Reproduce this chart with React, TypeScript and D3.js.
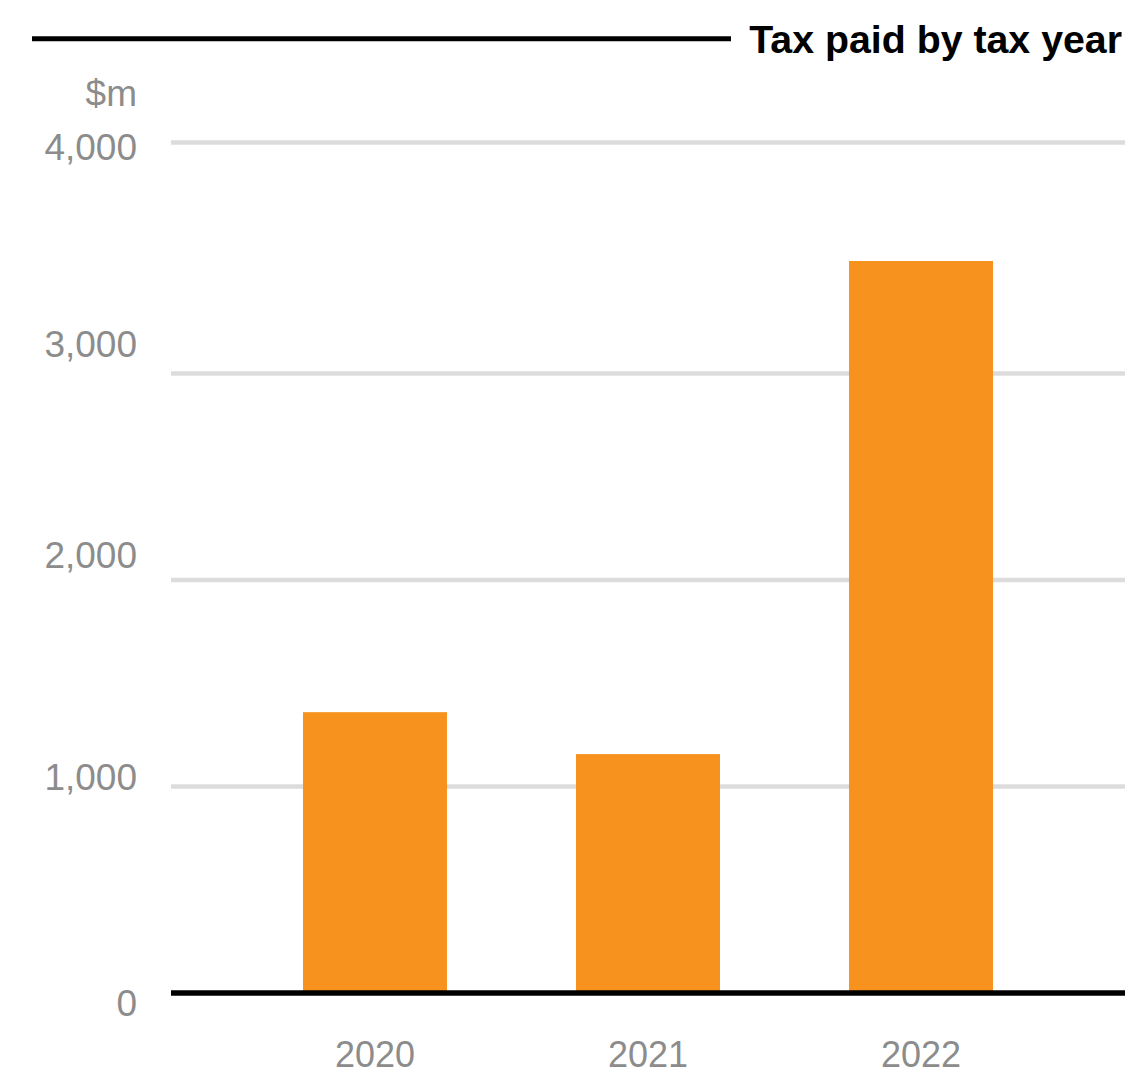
import React from "react";
import * as d3 from "d3";

const years = ["2020", "2021", "2022"];
const taxPaid = [1360, 1157, 3487];
const tickValues = [0, 1000, 2000, 3000, 4000];
const tickLabels = ["0", "1,000", "2,000", "3,000", "4,000"];
const unitLabel = "$m";
const title = "Tax paid by tax year";

const W = 1127;
const H = 1076;
const plotLeft = 171;
const plotRight = 1125;
const plotBottom = 993;
const FONT = "'Liberation Sans', Arial, Helvetica, sans-serif";
const GRAY = "#8c8c8c";
const ORANGE = "#f7921f";

export default function App() {
  const x = d3
    .scaleBand<string>()
    .domain(years)
    .range([plotLeft, plotRight])
    .paddingInner(0.4725)
    .paddingOuter(0.4835);

  // gridline positions in the reference are not evenly spaced at the top
  const y = d3
    .scaleLinear()
    .domain([0, 3000, 4000])
    .range([plotBottom, 373.5, 142.5]);

  // tick label baselines
  const yLabel = d3
    .scaleLinear()
    .domain(tickValues)
    .range([1016, 790, 568, 357, 160]);

  return (
    <svg
      width={W}
      height={H}
      style={{ position: "absolute", left: 0, top: 0 }}
      fontFamily={FONT}
    >
      <line x1={32} x2={731} y1={38.7} y2={38.7} stroke="#000" strokeWidth={5} />
      <text
        x={1122}
        y={53}
        textAnchor="end"
        fontSize={39.3}
        fontWeight="bold"
        fill="#000"
      >
        {title}
      </text>

      <text x={137} y={106} textAnchor="end" fontSize={37} fill={GRAY}>
        {unitLabel}
      </text>

      {tickValues
        .filter((v) => v !== 0)
        .map((v) => (
          <line
            key={v}
            x1={plotLeft}
            x2={plotRight}
            y1={y(v)}
            y2={y(v)}
            stroke="#dcdcdc"
            strokeWidth={4.5}
          />
        ))}

      {tickValues.map((v, i) => (
        <text
          key={v}
          x={137}
          y={yLabel(v)}
          textAnchor="end"
          fontSize={37}
          fill={GRAY}
        >
          {tickLabels[i]}
        </text>
      ))}

      {years.map((yr, i) => (
        <rect
          key={yr}
          x={x(yr)}
          width={x.bandwidth()}
          y={y(taxPaid[i])}
          height={plotBottom - y(taxPaid[i])}
          fill={ORANGE}
        />
      ))}

      <line
        x1={plotLeft}
        x2={plotRight}
        y1={plotBottom}
        y2={plotBottom}
        stroke="#000"
        strokeWidth={5.5}
      />

      {years.map((yr) => (
        <text
          key={yr}
          x={(x(yr) ?? 0) + x.bandwidth() / 2}
          y={1067}
          textAnchor="middle"
          fontSize={36}
          fill={GRAY}
        >
          {yr}
        </text>
      ))}
    </svg>
  );
}
